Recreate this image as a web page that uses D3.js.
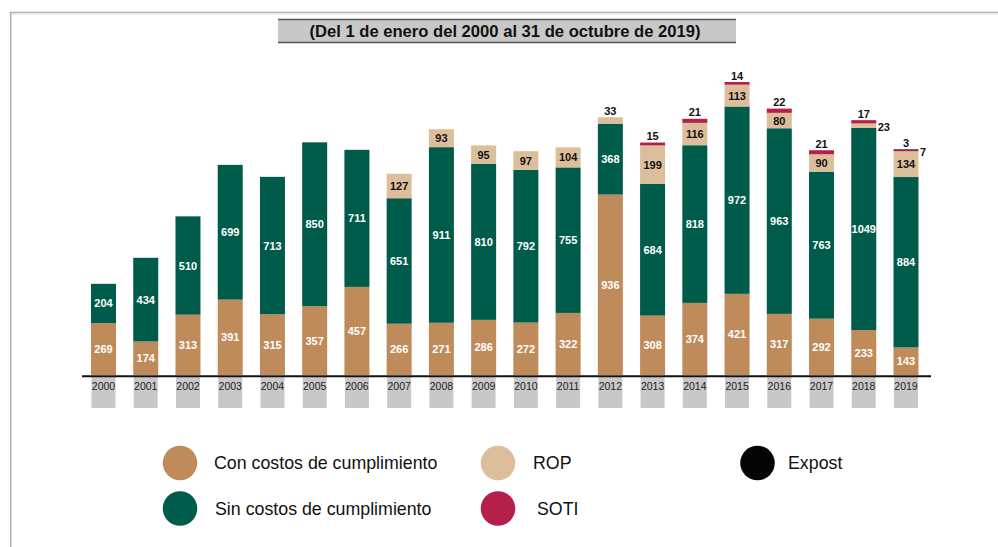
<!DOCTYPE html>
<html>
<head>
<meta charset="utf-8">
<script src="https://cdn.jsdelivr.net/npm/d3@7"></script>
<style>
	body { margin: 0; background: #fff; }
	svg { display: block; font-family: "Liberation Sans", Arial, sans-serif; }
</style>
</head>
<body>
<script>
(function() {
	var years  = ['2000','2001','2002','2003','2004','2005','2006','2007','2008','2009','2010','2011','2012','2013','2014','2015','2016','2017','2018','2019'];
	var con    = [269, 174, 313, 391, 315, 357, 457, 266, 271, 286, 272, 322, 936, 308, 374, 421, 317, 292, 233, 143];
	var sin    = [204, 434, 510, 699, 713, 850, 711, 651, 911, 810, 792, 755, 368, 684, 818, 972, 963, 763, 1049, 884];
	var rop    = [0, 0, 0, 0, 0, 0, 0, 127, 93, 95, 97, 104, 33, 199, 116, 113, 80, 90, 23, 134];
	var soti   = [0, 0, 0, 0, 0, 0, 0, 0, 0, 0, 0, 0, 0, 15, 21, 14, 22, 21, 17, 7];
	var expost = [0, 0, 0, 0, 0, 0, 0, 0, 0, 0, 0, 0, 0, 0, 0, 0, 0, 0, 0, 3];

	var seriesKeys  = ['con', 'sin', 'rop', 'soti', 'expost'];
	var seriesNames = ['Con costos de cumplimiento', 'Sin costos de cumplimiento', 'ROP', 'SOTI', 'Expost'];
	var title = '(Del 1 de enero del 2000 al 31 de octubre de 2019)';

	var colors = {con: '#bf8b5a', sin: '#005c4a', rop: '#dcbe9b', soti: '#b4204a', expost: '#050505'};
	var inkInside = {con: '#fff', sin: '#fff', rop: '#111', soti: '#fff', expost: '#fff'};

	var width = 998, height = 547,
	baseline = 375;

	var rows = years.map(function(y, i) {
		return {year: y, con: con[i], sin: sin[i], rop: rop[i], soti: soti[i], expost: expost[i]};
	});

	var x = d3.scaleBand().domain(years).range([91, 918.5]).paddingInner(0.408).paddingOuter(0);
	var y = d3.scaleLinear().domain([0, 1520]).range([baseline, 82]);

	var stack = d3.stack().keys(seriesKeys);
	var layers = stack(rows);

	var svg = d3.select('body').append('svg')
	.attr('width', width)
	.attr('height', height);

	// page frame
	svg.append('line')
	.attr('x1', 10).attr('x2', width).attr('y1', 12.5).attr('y2', 12.5)
	.attr('stroke', '#b0b0b0').attr('stroke-width', 1.5);
	svg.append('line')
	.attr('x1', 11).attr('x2', width).attr('y1', 14.2).attr('y2', 14.2)
	.attr('stroke', '#e6e6e6').attr('stroke-width', 1);
	svg.append('line')
	.attr('x1', 10.7).attr('x2', 10.7).attr('y1', 12).attr('y2', height)
	.attr('stroke', '#b0b0b0').attr('stroke-width', 1.5);

	// title box
	var titleG = svg.append('g').attr('class', 'title');
	titleG.append('rect')
	.attr('x', 278).attr('y', 19).attr('width', 458).attr('height', 24)
	.attr('fill', '#c8c8c8');
	titleG.append('line')
	.attr('x1', 278).attr('x2', 736).attr('y1', 19.5).attr('y2', 19.5)
	.attr('stroke', '#555').attr('stroke-width', 1.5);
	titleG.append('line')
	.attr('x1', 278).attr('x2', 736).attr('y1', 42.5).attr('y2', 42.5)
	.attr('stroke', '#555').attr('stroke-width', 1.5);
	titleG.append('text')
	.attr('x', 505).attr('y', 36.5)
	.attr('text-anchor', 'middle')
	.style('font-weight', 'bold')
	.style('font-size', '16.6px')
	.attr('fill', '#111')
	.text(title);

	// grey year tabs
	svg.append('g')
	.selectAll('rect')
	.data(years)
	.enter().append('rect')
	.attr('x', function(d) { return x(d) + 0.5; })
	.attr('y', 377)
	.attr('width', x.bandwidth() - 1)
	.attr('height', 31)
	.attr('fill', '#c8c8c8');

	// bars
	var bars = svg.append('g').attr('class', 'bars');
	layers.forEach(function(layer) {
		bars.append('g')
		.attr('fill', colors[layer.key])
		.selectAll('rect')
		.data(layer.filter(function(d) { return d[1] - d[0] > 0; }))
		.enter().append('rect')
		.attr('x', function(d) { return x(d.data.year); })
		.attr('y', function(d) { return y(d[1]); })
		.attr('width', x.bandwidth())
		.attr('height', function(d) { return y(d[0]) - y(d[1]); });
	});

	// axis
	var xAxis = d3.axisBottom(x).tickSize(0).tickPadding(0);
	var axisG = svg.append('g')
	.attr('class', 'x axis')
	.attr('transform', 'translate(0,' + 376.8 + ')')
	.call(xAxis);
	axisG.select('.domain').remove();
	axisG.selectAll('text')
	.attr('dy', null)
	.attr('y', 13.7)
	.style('font-family', '"Liberation Sans", Arial, sans-serif')
	.style('font-size', '10.5px')
	.attr('fill', '#222');
	svg.append('line')
	.attr('x1', 82).attr('x2', 931)
	.attr('y1', 376.3).attr('y2', 376.3)
	.attr('stroke', '#111').attr('stroke-width', 2);

	// value labels
	var labels = svg.append('g')
	.attr('class', 'labels')
	.style('font-weight', 'bold')
	.style('font-size', '11px');

	rows.forEach(function(row, i) {
		var topKey = null;
		seriesKeys.forEach(function(k) { if (row[k] > 0) topKey = k; });
		layers.forEach(function(layer) {
			var k = layer.key, d = layer[i];
			if (row[k] <= 0) return;
			var y0 = y(d[0]), y1 = y(d[1]), h = y0 - y1;
			var cx = x(row.year) + x.bandwidth() / 2;
			var t = labels.append('text').text(row[k]);
			if (h >= 12) {
				t.attr('x', cx).attr('y', (y0 + y1) / 2 + 4)
				.attr('text-anchor', 'middle')
				.attr('fill', inkInside[k]);
			} else if (k === topKey) {
				t.attr('x', cx).attr('y', y1 - 2.5)
				.attr('text-anchor', 'middle')
				.attr('fill', '#111');
			} else {
				t.attr('x', x(row.year) + x.bandwidth() + 1.5).attr('y', (y0 + y1) / 2 + 5)
				.attr('text-anchor', 'start')
				.attr('fill', '#111');
			}
		});
	});

	// legend
	var legendItems = [
		{key: 'con', cx: 180, cy: 463, tx: 214, ty: 469},
		{key: 'rop', cx: 498, cy: 463, tx: 533, ty: 469},
		{key: 'expost', cx: 757.5, cy: 463, tx: 788, ty: 469},
		{key: 'sin', cx: 180, cy: 508.5, tx: 215, ty: 514.5},
		{key: 'soti', cx: 498, cy: 508.5, tx: 537, ty: 514.5}
	];

	var legend = svg.append('g').attr('class', 'legend');
	var item = legend.selectAll('g')
	.data(legendItems)
	.enter().append('g');
	item.append('circle')
	.attr('cx', function(d) { return d.cx; })
	.attr('cy', function(d) { return d.cy; })
	.attr('r', 17.3)
	.attr('fill', function(d) { return colors[d.key]; });
	item.append('text')
	.attr('x', function(d) { return d.tx; })
	.attr('y', function(d) { return d.ty; })
	.style('font-size', '17.8px')
	.attr('fill', '#111')
	.text(function(d) { return seriesNames[seriesKeys.indexOf(d.key)]; });
}());
</script>
</body>
</html>
